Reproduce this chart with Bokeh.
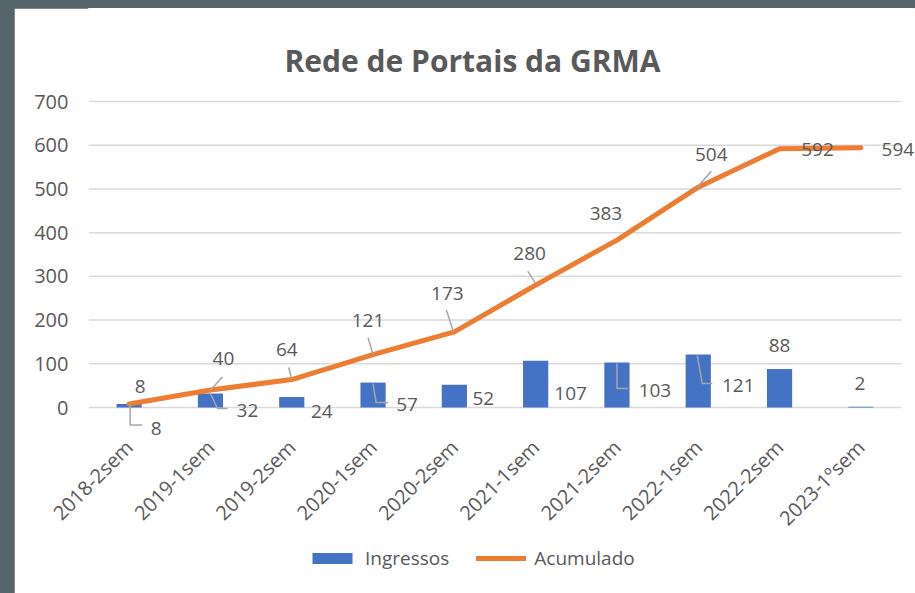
from bokeh.plotting import figure
from bokeh.models import (ColumnDataSource, LabelSet, Label, FixedTicker, Legend, LegendItem,
                          Range1d, Spacer)
from bokeh.layouts import row, column
from bokeh.embed import file_html
from bokeh.resources import INLINE
from bokeh.core.properties import value

# ---------------- data ----------------
title_text = "Rede de Portais da GRMA"
categories = ["2018-2sem", "2019-1sem", "2019-2sem", "2020-1sem", "2020-2sem",
              "2021-1sem", "2021-2sem", "2022-1sem", "2022-2sem", "2023-1ºsem"]
ingressos = [8, 32, 24, 57, 52, 107, 103, 121, 88, 2]
acumulado = [8, 40, 64, 121, 173, 280, 383, 504, 592, 594]
y_ticks = [0, 100, 200, 300, 400, 500, 600, 700]

# label placement (screen px offsets from each point: dx right, dy up)
acc_dx = [11, 13, -5, -5, -7, -6, -11, 13, 38, 37]
acc_dy = [18, 32, 30, 34, 38, 32, 27, 33, -1, -2]
ing_dx = [27, 37, 30, 34, 29, 35, 38, 40, 0, -1]
ing_dy = [-24, -17, -14, -22, -14, -33, -28, -31, 24, 23]

# leader lines: (series, index, list of px points (dx right, dy down))
leaders = [
    ("ing", 0, [(1, 0), (1, 21), (13, 21)]),
    ("ing", 1, [(0, 0), (7, 15), (17, 15)]),
    ("acc", 1, [(0, 0), (12, -13)]),
    ("acc", 2, [(-3, -12), (0, 0)]),
    ("acc", 3, [(-5, -17), (0, 0)]),
    ("ing", 3, [(0, 1), (3, 20), (15, 20)]),
    ("acc", 4, [(-8, -22), (-1, 0)]),
    ("acc", 5, [(-8, -14), (0, -2)]),
    ("acc", 7, [(-1, 0), (13, -16)]),
    ("ing", 6, [(0, 1), (0, 26), (11, 26)]),
    ("ing", 7, [(-1, 1), (4, 29), (14, 29)]),
]

TXT = "#595959"
FONT = "Open Sans"

# geometry (pixels); figure placed at x=14, y=8 of the page
W, H = 901, 585
ML, MR, MT, MB = 74, 1, 0, 13
FW, FH = W - ML - MR, H - MT - MB
PLOT_TOP = 93                # px from figure top to the 700 line
PLOT_W, PLOT_H = 813, 306    # visible plot area (0..10 categories, 0..700)
YMAX = 700
sx = PLOT_W / len(categories)
sy = PLOT_H / YMAX
x_end = FW / sx
y_end = YMAX + (PLOT_TOP - MT) / sy
y_start = y_end - FH / sy

p = figure(width=W, height=H, output_backend="svg", toolbar_location=None, title=None,
           x_range=Range1d(0, x_end), y_range=Range1d(y_start, y_end),
           min_border_left=ML, min_border_right=MR, min_border_top=MT, min_border_bottom=MB)
p.outline_line_color = "white"
p.border_fill_color = "white"
p.background_fill_color = "white"

xs = [i + 0.5 for i in range(len(categories))]

# axes
p.xaxis.ticker = FixedTicker(ticks=xs)
p.xaxis.major_label_overrides = {x: c for x, c in zip(xs, categories)}
p.xaxis.major_label_orientation = 0.785398
p.yaxis.ticker = FixedTicker(ticks=y_ticks)
for ax in (p.xaxis, p.yaxis):
    ax.axis_line_color = None
    ax.major_tick_line_color = None
    ax.minor_tick_line_color = None
    ax.major_tick_out = 0
    ax.major_tick_in = 0
    ax.major_label_text_font = FONT
    ax.major_label_text_font_size = "20px"
    ax.major_label_text_color = TXT
p.yaxis.major_label_standoff = 20
p.xaxis.major_label_standoff = int(35 - (0 - y_start) * sy)

p.xgrid.grid_line_color = None
p.ygrid.grid_line_color = None

# horizontal gridlines over the category span
p.multi_line(xs=[[0, len(categories)] for _ in y_ticks], ys=[[t, t] for t in y_ticks],
             line_color="#D9D9D9", line_width=1.5)

# marks
bars = p.vbar(x=xs, top=ingressos, width=0.31, fill_color="#4472C4", line_color=None)
ln = p.line(xs, acumulado, line_width=5, line_color="#ED7D31", line_cap="round", line_join="round")

# leader lines
lxs, lys = [], []
for ser, i, pts in leaders:
    base = ingressos[i] if ser == "ing" else acumulado[i]
    lxs.append([xs[i] + dx / sx for dx, dy in pts])
    lys.append([base - dy / sy for dx, dy in pts])
p.multi_line(xs=lxs, ys=lys, line_color="#A6A6A6", line_width=1.5)

# data labels
acc_src = ColumnDataSource(dict(x=xs, y=acumulado, t=[str(v) for v in acumulado],
                                dx=acc_dx, dy=acc_dy))
ing_src = ColumnDataSource(dict(x=xs, y=ingressos, t=[str(v) for v in ingressos],
                                dx=ing_dx, dy=ing_dy))
for src in (acc_src, ing_src):
    p.add_layout(LabelSet(source=src, x="x", y="y", text="t", x_offset="dx", y_offset="dy",
                          text_align="center", text_baseline="middle",
                          text_font=value(FONT), text_font_size="19px", text_color=TXT))

# chart title (centred at px 458 from figure left, baseline 52 px below figure top)
p.add_layout(Label(x=(458 - ML) / sx, y=y_end - (52 - MT) / sy, text=title_text,
                   text_align="center", text_baseline="alphabetic",
                   text_font=FONT, text_font_size="30px", text_font_style="bold",
                   text_color=TXT))

legend = Legend(items=[LegendItem(label="Ingressos", renderers=[bars]),
                       LegendItem(label="Acumulado", renderers=[ln])],
                location=(219, 9), orientation="horizontal")
legend.glyph_width = 50
legend.glyph_height = 14
legend.label_standoff = 8
legend.spacing = 27
legend.padding = 0
legend.margin = 0
legend.border_line_color = None
legend.background_fill_alpha = 0
legend.label_text_font = FONT
legend.label_text_font_size = "19px"
legend.label_text_color = TXT
legend.label_height = 20
p.add_layout(legend)

layout = column(Spacer(width=915, height=8), row(Spacer(width=14, height=H), p))
html = file_html(layout, INLINE)
html = html.replace("</head>", "<style>html, body { background-color: #56656C; }</style></head>", 1)
open("out.html", "w").write(html)
